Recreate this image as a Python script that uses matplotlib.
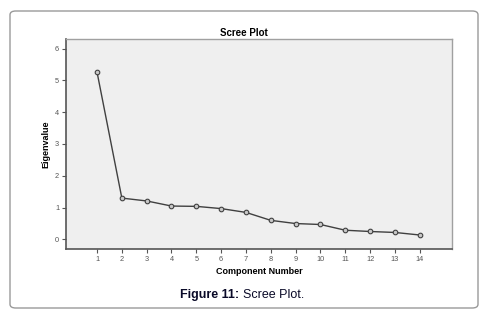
import matplotlib.pyplot as plt
from matplotlib.patches import FancyBboxPatch

plt.rcParams["font.family"] = ["Liberation Sans", "DejaVu Sans"]

# Datos del scree plot
components = [1, 2, 3, 4, 5, 6, 7, 8, 9, 10, 11, 12, 13, 14]
eigenvalues = [5.26, 1.30, 1.21, 1.05, 1.04, 0.97, 0.85, 0.60, 0.50, 0.47, 0.29, 0.25, 0.22, 0.14]
y_ticks = [0, 1, 2, 3, 4, 5, 6]

W, H = 484, 316
fig = plt.figure(figsize=(W / 100, H / 100), dpi=100)
fig.patch.set_facecolor("white")

# Marco redondeado alrededor de la figura
frame = FancyBboxPatch((10 / W, 8 / H), 468 / W, 297 / H,
                       boxstyle="round,pad=0,rounding_size=0.012",
                       transform=fig.transFigure, facecolor="white",
                       edgecolor="#9a9a9a", linewidth=1.0, zorder=-10)
fig.patches.append(frame)

# Area del grafico
ax = fig.add_axes([66 / W, 1 - 249 / H, 386 / W, 210 / H])
ax.set_zorder(5)
ax.set_facecolor("#efefef")
ax.plot(components, eigenvalues, color="#404040", linewidth=1.0,
        marker="o", markersize=3.3, markerfacecolor="#c8c8c8",
        markeredgecolor="#404040", markeredgewidth=0.8)

ax.set_xlim(-0.25, 15.3)
ax.set_ylim(-0.3, 6.3)
ax.set_xticks(components)
ax.set_yticks(y_ticks)
ax.tick_params(labelsize=5.3, colors="#555555", length=3, width=0.8, pad=2)

for side in ["left", "bottom"]:
    ax.spines[side].set_color("#555555")
    ax.spines[side].set_linewidth(1.2)
for side in ["top", "right"]:
    ax.spines[side].set_color("#a0a0a0")
    ax.spines[side].set_linewidth(1.0)

ax.set_xlabel("Component Number", fontsize=6.5, fontweight="bold", labelpad=3)
ax.set_ylabel("Eigenvalue", fontsize=6.5, fontweight="bold", labelpad=3)

fig.text(244 / W, 1 - 33 / H, "Scree Plot", ha="center", va="center",
         fontsize=7, fontweight="bold")

# Pie de figura
fig.text(239 / W, 1 - 295 / H, "Figure 11:", ha="right", va="center",
         fontsize=9, fontweight="bold", color="#0a0a28")
fig.text(243 / W, 1 - 295 / H, "Scree Plot.", ha="left", va="center",
         fontsize=9, color="#0a0a28")

fig.savefig("out.png", dpi=100)
